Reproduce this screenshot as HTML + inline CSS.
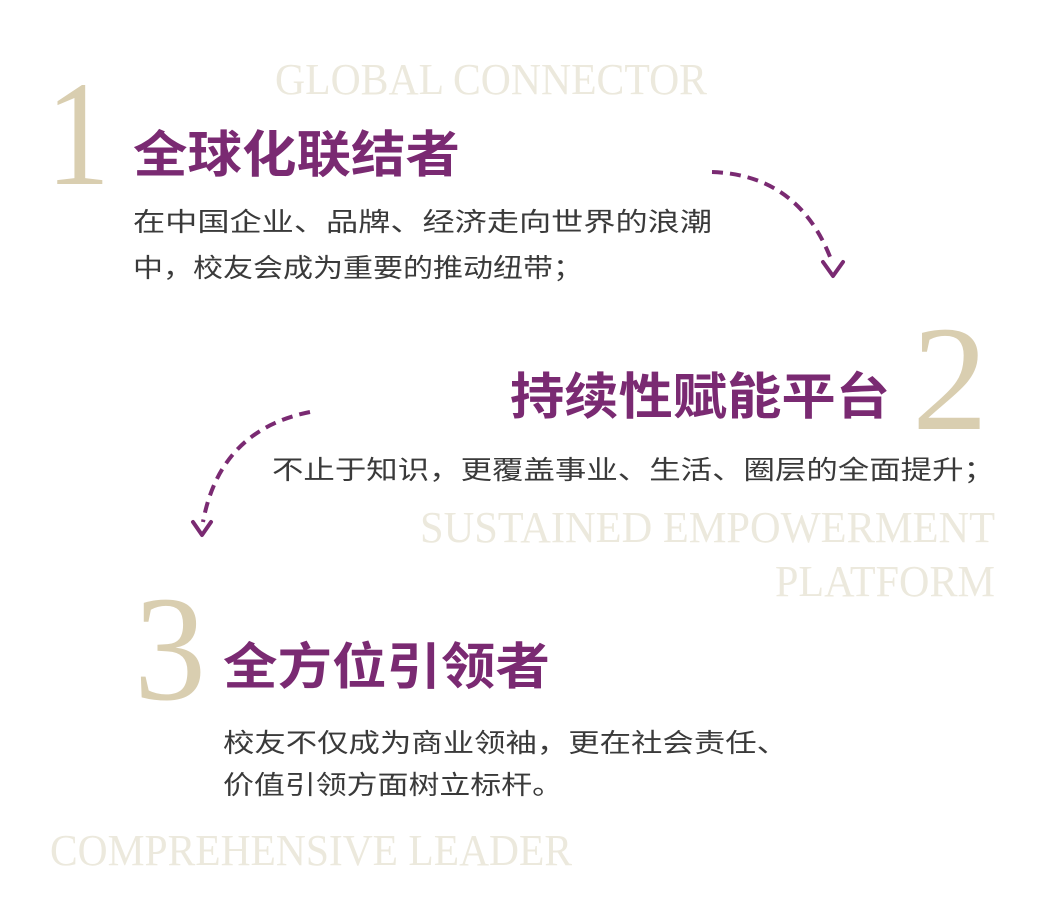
<!DOCTYPE html>
<html><head><meta charset="utf-8"><style>
html,body{margin:0;padding:0;background:#fff;}
svg{display:block}
.cn{font-family:"Liberation Sans","Noto Sans CJK SC",sans-serif;}
.h{fill:#7a2a72;font-weight:bold;font-size:50px;}
.b{fill:#3a3a3a;font-size:26px;}
.n{font-family:"Liberation Serif",serif;fill:#d9ceb0;font-size:150px;}
.e{font-family:"Liberation Serif",serif;fill:#ece9dd;font-size:44px;}
</style></head><body>
<svg width="1043" height="924" viewBox="0 0 1043 924" xmlns="http://www.w3.org/2000/svg">
<text class="e" x="275" y="94" textLength="432" lengthAdjust="spacingAndGlyphs">GLOBAL CONNECTOR</text>
<text class="n" x="46" y="184" textLength="64" lengthAdjust="spacingAndGlyphs">1</text>
<text class="cn h" x="133" y="172" textLength="327" lengthAdjust="spacingAndGlyphs">全球化联结者</text>
<text class="cn b" x="133" y="231" textLength="579" lengthAdjust="spacingAndGlyphs">在中国企业、品牌、经济走向世界的浪潮</text>
<text class="cn b" x="133" y="277" textLength="450" lengthAdjust="spacingAndGlyphs">中，校友会成为重要的推动纽带；</text>

<path d="M712 172 Q800 175 832 262" fill="none" stroke="#7a2a72" stroke-width="4" stroke-dasharray="11 7"/>
<path d="M823 262 L833 276 L843 262" fill="none" stroke="#7a2a72" stroke-width="4" stroke-linecap="round" stroke-linejoin="round"/>

<text class="n" x="912" y="429" textLength="76" lengthAdjust="spacingAndGlyphs">2</text>
<text class="cn h" x="510" y="414" textLength="380" lengthAdjust="spacingAndGlyphs">持续性赋能平台</text>
<text class="cn b" x="272" y="479" textLength="723" lengthAdjust="spacingAndGlyphs">不止于知识，更覆盖事业、生活、圈层的全面提升；</text>
<text class="e" x="420" y="542" textLength="575" lengthAdjust="spacingAndGlyphs">SUSTAINED EMPOWERMENT</text>
<text class="e" x="775" y="596" textLength="220" lengthAdjust="spacingAndGlyphs">PLATFORM</text>

<path d="M310 412 Q220 430 203 522" fill="none" stroke="#7a2a72" stroke-width="4" stroke-dasharray="11 7"/>
<path d="M193 522 L202 535 L211 522" fill="none" stroke="#7a2a72" stroke-width="4" stroke-linecap="round" stroke-linejoin="round"/>

<text class="n" x="134" y="699" textLength="72" lengthAdjust="spacingAndGlyphs">3</text>
<text class="cn h" x="223" y="684" textLength="327" lengthAdjust="spacingAndGlyphs">全方位引领者</text>
<text class="cn b" x="223" y="752" textLength="565" lengthAdjust="spacingAndGlyphs">校友不仅成为商业领袖，更在社会责任、</text>
<text class="cn b" x="223" y="794" textLength="340" lengthAdjust="spacingAndGlyphs">价值引领方面树立标杆。</text>
<text class="e" x="50" y="865" textLength="522" lengthAdjust="spacingAndGlyphs">COMPREHENSIVE LEADER</text>
</svg>
</body></html>
